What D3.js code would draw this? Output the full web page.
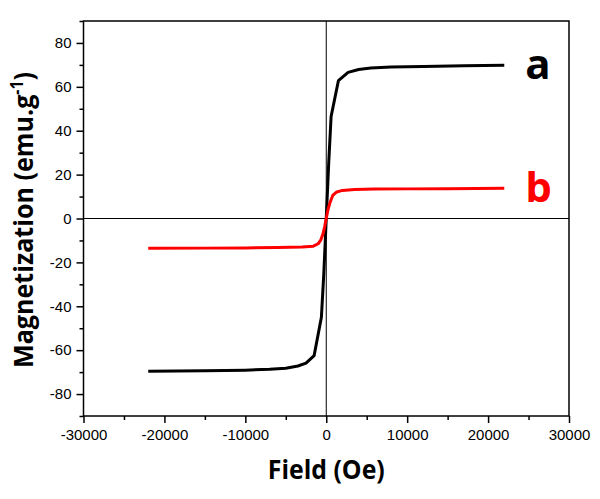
<!DOCTYPE html>
<html>
<head>
<meta charset="utf-8">
<script src="https://cdn.jsdelivr.net/npm/d3@7"></script>
<style>
  body { margin: 0; background: #fff; }
  svg { display: block; }
  .tick text { font-family: "Liberation Sans", Arial, sans-serif; font-size: 15px; fill: #000; }
</style>
</head>
<body>
<svg></svg>
<script>
// Data: field (Oe) and magnetization (emu/g)
const fieldA = [-22000, -15000, -10000, -7000, -5000, -3500, -2500, -1500, -600, -300, 0, 300, 600, 1500, 2700, 4000, 5500, 8000, 12000, 17000, 22000];
const magA = [-69.6, -69.4, -69.1, -68.7, -68.2, -67.2, -65.9, -62.5, -45, -25, 0, 25, 46.5, 62.8, 66.6, 67.9, 68.6, 69.0, 69.3, 69.6, 69.8];

const fieldB = [-22000, -15000, -10000, -6000, -3000, -1600, -1000, -700, -400, -200, 0, 200, 460, 800, 1300, 2000, 3500, 6000, 10000, 15000, 22000];
const magB = [-13.6, -13.5, -13.4, -13.2, -13.0, -12.6, -11.5, -10, -7, -3.8, 0, 3.8, 7.2, 10.5, 12.1, 12.8, 13.2, 13.4, 13.5, 13.6, 13.8];

const seriesNames = ["a", "b"];
const seriesColors = ["#000000", "#ff0000"];

const xMajor = [-30000, -20000, -10000, 0, 10000, 20000, 30000];
const xMinor = [-25000, -15000, -5000, 5000, 15000, 25000];
const yMajor = [-80, -60, -40, -20, 0, 20, 40, 60, 80];
const yMinor = [-90, -70, -50, -30, -10, 10, 30, 50, 70, 90];

window.onload = function () {
    const width = 600;
    const height = 499;
    const margin = { top: 21, right: 31, bottom: 83, left: 83.5 };
    const innerWidth = width - margin.left - margin.right;
    const innerHeight = height - margin.top - margin.bottom;

    const svg = d3.select("svg")
        .attr("width", width)
        .attr("height", height);

    const xScale = d3.scaleLinear().domain([-30000, 30000]).range([0, innerWidth]);
    const yScale = d3.scaleLinear().domain([-90, 90]).range([innerHeight, 0]);

    const g = svg.append("g")
        .attr("transform", `translate(${margin.left}, ${margin.top})`);

    // plain hyphen for negatives, like the original
    const fmt = d => String(d);

    // ejes: ticks mayores y menores hacia fuera
    const xAxis = g.append("g")
        .attr("transform", `translate(0, ${innerHeight})`)
        .call(d3.axisBottom(xScale).tickValues(xMajor).tickSize(7).tickPadding(6).tickFormat(fmt));
    const xAxisMinor = g.append("g")
        .attr("transform", `translate(0, ${innerHeight})`)
        .call(d3.axisBottom(xScale).tickValues(xMinor).tickSize(4).tickFormat(""));
    const yAxis = g.append("g")
        .call(d3.axisLeft(yScale).tickValues(yMajor).tickSize(7).tickPadding(5).tickFormat(fmt));
    const yAxisMinor = g.append("g")
        .call(d3.axisLeft(yScale).tickValues(yMinor).tickSize(4).tickFormat(""));

    [xAxis, xAxisMinor, yAxis, yAxisMinor].forEach(a => {
        a.select(".domain").remove();
        a.selectAll(".tick line").attr("stroke", "#000").attr("stroke-width", 1.5);
    });

    // marco
    g.append("rect")
        .attr("x", 0)
        .attr("y", 0)
        .attr("width", innerWidth)
        .attr("height", innerHeight)
        .attr("fill", "none")
        .attr("stroke", "#000")
        .attr("stroke-width", 1.5);

    // lineas en cero
    g.append("line")
        .attr("x1", 0).attr("x2", innerWidth)
        .attr("y1", yScale(0)).attr("y2", yScale(0))
        .attr("stroke", "#000").attr("stroke-width", 1);
    g.append("line")
        .attr("x1", xScale(0)).attr("x2", xScale(0))
        .attr("y1", 0).attr("y2", innerHeight)
        .attr("stroke", "#000").attr("stroke-width", 1);

    const series = [
        { name: seriesNames[0], color: seriesColors[0], points: fieldA.map((f, i) => [f, magA[i]]) },
        { name: seriesNames[1], color: seriesColors[1], points: fieldB.map((f, i) => [f, magB[i]]) }
    ];

    const line = d3.line()
        .x(d => xScale(d[0]))
        .y(d => yScale(d[1]));

    g.selectAll(".curve")
        .data(series)
        .enter()
        .append("path")
        .attr("class", "curve")
        .attr("d", d => line(d.points))
        .attr("fill", "none")
        .attr("stroke", d => d.color)
        .attr("stroke-width", 3)
        .attr("stroke-linejoin", "round");

    // etiquetas a / b al final de cada curva
    g.selectAll(".series-label")
        .data(series)
        .enter()
        .append("text")
        .attr("class", "series-label")
        .attr("x", d => xScale(d.points[d.points.length - 1][0]) + 21)
        .attr("y", d => yScale(d.points[d.points.length - 1][1]) + 14)
        .style("font-family", "'Open Sans', sans-serif")
        .style("font-weight", "bold")
        .style("font-size", "42px")
        .style("fill", d => d.color)
        .text(d => d.name);

    // titulos de ejes
    svg.append("text")
        .attr("x", margin.left + xScale(0))
        .attr("y", 479)
        .style("text-anchor", "middle")
        .style("font-family", "'Open Sans', sans-serif")
        .style("font-weight", "bold")
        .style("font-size", "27px")
        .attr("textLength", 117)
        .attr("lengthAdjust", "spacingAndGlyphs")
        .text("Field (Oe)");

    const yTitle = svg.append("text")
        .attr("transform", `translate(33, ${(72 + 368) / 2}) rotate(-90)`)
        .style("text-anchor", "middle")
        .style("font-family", "'Open Sans', sans-serif")
        .style("font-weight", "bold")
        .style("font-size", "27px")
        .attr("textLength", 296)
        .attr("lengthAdjust", "spacingAndGlyphs");
    yTitle.append("tspan").text("Magnetization (emu.g");
    yTitle.append("tspan").attr("dy", -10).style("font-size", "17px").text("-1");
    yTitle.append("tspan").attr("dy", 10).text(")");
};
</script>
</body>
</html>
